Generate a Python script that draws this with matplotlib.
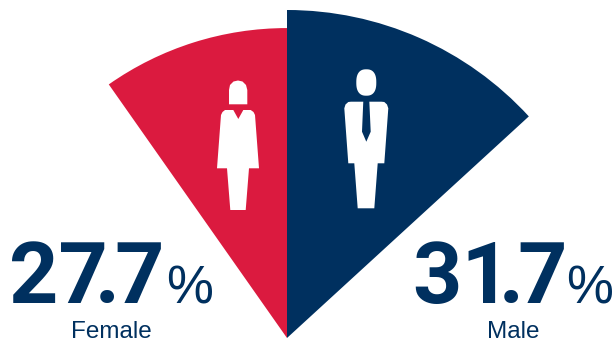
import numpy as np
import matplotlib
matplotlib.use('Agg')
import matplotlib.pyplot as plt
from matplotlib.patches import Wedge, Polygon

labels = ['Female', 'Male']
values = [27.7, 31.7]
spans = [35.1, 47.5]   # sector opening either side of the vertical, degrees
colors = ['#DB1A3F', '#00305F']

NAVY = '#00305F'
FONT = 'Liberation Sans'
CX, CY = 287, 338


def radius(v):
    # radius grows slower than the share itself
    return 328 * (v / 31.7) ** 0.42


fig = plt.figure(figsize=(6.13, 3.41), dpi=100)
ax = fig.add_axes([0, 0, 1, 1])
ax.set_xlim(0, 613)
ax.set_ylim(341, 0)
ax.axis('off')

# sectors
for i in range(2):
    if i == 0:
        t1, t2 = -90 - spans[i], -90
    else:
        t1, t2 = -90, -90 + spans[i]
    ax.add_patch(Wedge((CX, CY), radius(values[i]), t1, t2, fc=colors[i], ec='none'))

# woman icon
ax.add_patch(Polygon([(229, 104.3), (247.3, 104.3), (247.3, 90), (246, 85), (242.5, 81.5),
                      (238, 80.5), (233.5, 81.5), (230, 85), (229, 90)], fc='white', ec='none'))
ax.add_patch(Polygon([(221, 115), (222.5, 112), (225, 110), (233.3, 110), (238.3, 119), (243.3, 110),
                      (250.7, 110), (253.5, 112), (255, 115), (259, 168.3), (249, 168.3),
                      (245.7, 210), (230.3, 210), (227, 168.3), (217, 168.3)], fc='white', ec='none'))

# man icon, the head is a slightly squared oval
th = np.linspace(0, 2 * np.pi, 80)
hx = 366.3 + 10 * np.sign(np.cos(th)) * np.abs(np.cos(th)) ** 0.8
hy = 82.5 + 13.2 * np.sign(np.sin(th)) * np.abs(np.sin(th)) ** 0.8
ax.add_patch(Polygon(np.column_stack([hx, hy]), fc='white', ec='none'))
ax.add_patch(Polygon([(344.3, 108.3), (345.5, 104.5), (348.3, 102), (351, 101.7), (381.5, 101.7),
                      (384.3, 102), (387, 104.5), (388.3, 108.3), (384.3, 163.3), (377.7, 163.3),
                      (374.3, 208.3), (357.7, 208.3), (354.3, 163.3), (348.3, 163.3)],
                     fc='white', ec='none'))
ax.add_patch(Polygon([(363.3, 101), (369.3, 101), (370.7, 131.7), (366.3, 141.7), (362, 131.7)],
                     fc=NAVY, ec='none'))


def big_number(v, x_int, x_dot, x_dec):
    # the figures are set tighter than the font's own spacing
    whole, dec = f'{v}'.split('.')
    for s, x in ((whole, x_int), ('.', x_dot), (dec, x_dec)):
        ax.text(x, 303, s, color=NAVY, family='Roboto', weight='bold', fontsize=62,
                ha='left', va='baseline')


big_number(values[0], 9, 95, 114)
big_number(values[1], 412, 499, 517)
ax.text(166, 303, '%', color=NAVY, family=FONT, fontsize=38, ha='left', va='baseline')
ax.text(566, 303, '%', color=NAVY, family=FONT, fontsize=38, ha='left', va='baseline')
ax.text(111.5, 337.5, labels[0], color=NAVY, family=FONT, fontsize=17.5, ha='center', va='baseline')
ax.text(513, 337.5, labels[1], color=NAVY, family=FONT, fontsize=17.5, ha='center', va='baseline')

fig.savefig('out.png', dpi=100, facecolor='white')
